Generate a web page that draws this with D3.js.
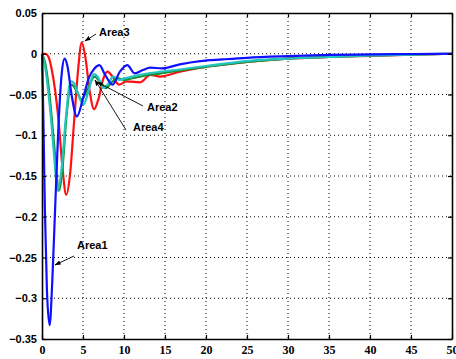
<!DOCTYPE html>
<html>
<head>
<meta charset="utf-8">
<script src="https://cdn.jsdelivr.net/npm/d3@7"></script>
<style>
  body { margin: 0; background: #fff; }
  svg { display: block; }
  .ytick text { font: bold 11px "Liberation Sans", Arial, sans-serif; }
  .xtick text { font: bold 12px "Liberation Serif", "Times New Roman", serif; }
  .note { font: bold 11px "Liberation Sans", Arial, sans-serif; }
</style>
</head>
<body>
<svg id="chart"></svg>
<script>
// x ticks / y ticks
const xTicks = [0, 5, 10, 15, 20, 25, 30, 35, 40, 45, 50];
const yTicks = [0.05, 0, -0.05, -0.1, -0.15, -0.2, -0.25, -0.3, -0.35];

// Area1 (blue)
const area1T = [0, 0.15, 0.35, 0.6, 0.93, 1.25, 1.6, 2.0, 2.4, 2.75, 3.1, 3.6, 4.25, 5.0, 5.7, 6.4, 7.0, 7.7, 8.6, 9.5, 10.4, 11.3, 12.3, 13.2, 14.6, 16.8, 19.3, 22, 25, 30, 35, 40, 45, 50];
const area1V = [0, -0.07, -0.19, -0.29, -0.333, -0.28, -0.19, -0.09, -0.025, -0.006, -0.015, -0.05, -0.077, -0.055, -0.03, -0.018, -0.014, -0.026, -0.038, -0.022, -0.014, -0.024, -0.02, -0.017, -0.018, -0.013, -0.009, -0.007, -0.005, -0.003, -0.0015, -0.0008, -0.0003, 0];

// Area3 (red)
const area3T = [0, 0.4, 0.8, 1.2, 1.6, 2.0, 2.5, 2.95, 3.4, 3.9, 4.4, 4.85, 5.3, 5.8, 6.35, 6.9, 7.5, 8.0, 8.6, 9.4, 10.3, 12.0, 13.2, 14.4, 16.8, 19.3, 25, 30, 35, 40, 45, 50];
const area3V = [0, 0, -0.004, -0.02, -0.045, -0.08, -0.14, -0.173, -0.15, -0.085, -0.02, 0.014, -0.005, -0.045, -0.068, -0.055, -0.03, -0.022, -0.028, -0.038, -0.034, -0.035, -0.026, -0.028, -0.022, -0.017, -0.010, -0.006, -0.004, -0.0025, -0.0012, 0];

// Area4 (green)
const area4T = [0, 0.4, 0.8, 1.2, 1.6, 2.05, 2.5, 3.0, 3.6, 4.2, 4.8, 5.5, 6.4, 7.2, 7.8, 8.5, 9.2, 10, 11, 12.5, 14.5, 17, 20, 25, 30, 35, 40, 45, 50];
const area4V = [0, -0.012, -0.04, -0.08, -0.125, -0.168, -0.14, -0.075, -0.038, -0.045, -0.056, -0.045, -0.028, -0.036, -0.042, -0.035, -0.03, -0.032, -0.03, -0.027, -0.024, -0.02, -0.016, -0.01, -0.006, -0.004, -0.002, -0.001, 0];

// Area2 (cyan)
const area2T = [0, 0.35, 0.75, 1.15, 1.5, 1.9, 2.4, 2.9, 3.5, 3.9, 4.4, 5.05, 5.7, 6.3, 6.9, 7.4, 8.0, 8.7, 9.4, 10.2, 11, 12.5, 14.5, 17, 20, 25, 30, 35, 40, 45, 50];
const area2V = [0, -0.014, -0.045, -0.085, -0.128, -0.168, -0.14, -0.08, -0.034, -0.036, -0.05, -0.062, -0.045, -0.025, -0.03, -0.042, -0.038, -0.028, -0.032, -0.03, -0.028, -0.025, -0.022, -0.019, -0.015, -0.009, -0.006, -0.004, -0.002, -0.001, 0];

const width = 456, height = 359;
const margin = {left: 42, right: 4, top: 13, bottom: 20};

const svg = d3.select("#chart").attr("width", width).attr("height", height);

const x = d3.scaleLinear().domain([0, 50]).range([margin.left, width - margin.right]);
const y = d3.scaleLinear().domain([-0.35, 0.05]).range([height - margin.bottom, margin.top]);

// Grid (dotted, matlab style)
const grid = svg.append("g").attr("stroke", "#000").attr("stroke-width", 1)
  .attr("stroke-dasharray", "1,3");
grid.selectAll(".gx").data(xTicks.slice(1, -1)).enter().append("line")
  .attr("x1", d => x(d)).attr("x2", d => x(d))
  .attr("y1", y(0.05)).attr("y2", y(-0.35));
grid.selectAll(".gy").data(yTicks.slice(1, -1)).enter().append("line")
  .attr("x1", x(0)).attr("x2", x(50))
  .attr("y1", d => y(d)).attr("y2", d => y(d));

// Lines
const line = d3.line()
  .x(d => x(d[0]))
  .y(d => y(d[1]))
  .curve(d3.curveMonotoneX);

const series = [
  {t: area3T, v: area3V, color: "#ff1010"},
  {t: area4T, v: area4V, color: "#1c8c2c"},
  {t: area2T, v: area2V, color: "#22c4c0"},
  {t: area1T, v: area1V, color: "#1010ff"}
];

svg.append("g").selectAll("path").data(series).enter().append("path")
  .attr("d", s => line(s.t.map((t, i) => [t, s.v[i]])))
  .attr("fill", "none")
  .attr("stroke", s => s.color)
  .attr("stroke-width", 2.2)
  .attr("stroke-linejoin", "round");

// Axes (box with inward ticks)
const fmtY = d => d === 0 ? "0" : d3.format(".2~f")(d).replace("-", "\u2212");

const yAxis = svg.append("g").attr("class", "ytick")
  .attr("transform", `translate(${x(0)},0)`)
  .call(d3.axisLeft(y).tickValues(yTicks).tickFormat(fmtY).tickSizeInner(-4).tickSizeOuter(0).tickPadding(5));
const xAxis = svg.append("g").attr("class", "xtick")
  .attr("transform", `translate(0,${y(-0.35)})`)
  .call(d3.axisBottom(x).tickValues(xTicks).tickSizeInner(-4).tickSizeOuter(0).tickPadding(6));
svg.append("g")
  .attr("transform", `translate(0,${y(0.05)})`)
  .call(d3.axisTop(x).tickValues(xTicks).tickFormat("").tickSizeInner(-4).tickSizeOuter(0));
svg.append("g")
  .attr("transform", `translate(${x(50)},0)`)
  .call(d3.axisRight(y).tickValues(yTicks).tickFormat("").tickSizeInner(-4).tickSizeOuter(0));

svg.selectAll(".domain").attr("stroke", "#000").attr("stroke-width", 1.6);
svg.selectAll(".tick line").attr("stroke", "#000").attr("stroke-width", 1.2);
yAxis.selectAll("text").attr("fill", "#000");
xAxis.selectAll("text").attr("fill", "#000");

// Annotations
svg.append("defs").append("marker")
  .attr("id", "arrow").attr("viewBox", "0 0 10 10")
  .attr("refX", 9).attr("refY", 5)
  .attr("markerWidth", 7).attr("markerHeight", 7)
  .attr("orient", "auto")
  .append("path").attr("d", "M0,1.5 L10,5 L0,8.5 Z").attr("fill", "#000");

const notes = [
  {label: "Area1", tx: 77, ty: 249, from: [74, 256], to: [55, 265]},
  {label: "Area3", tx: 99, ty: 36, from: [96, 34], to: [85, 41]},
  {label: "Area2", tx: 147, ty: 111, from: [143, 106], to: [97, 82]},
  {label: "Area4", tx: 133, ty: 131, from: [126, 130], to: [95, 80]}
];

const ann = svg.append("g");
ann.selectAll("line").data(notes).enter().append("line")
  .attr("x1", d => d.from[0]).attr("y1", d => d.from[1])
  .attr("x2", d => d.to[0]).attr("y2", d => d.to[1])
  .attr("stroke", "#000").attr("stroke-width", 0.9)
  .attr("marker-end", "url(#arrow)");
ann.selectAll("text").data(notes).enter().append("text")
  .attr("class", "note")
  .attr("x", d => d.tx).attr("y", d => d.ty)
  .text(d => d.label);
</script>
</body>
</html>
